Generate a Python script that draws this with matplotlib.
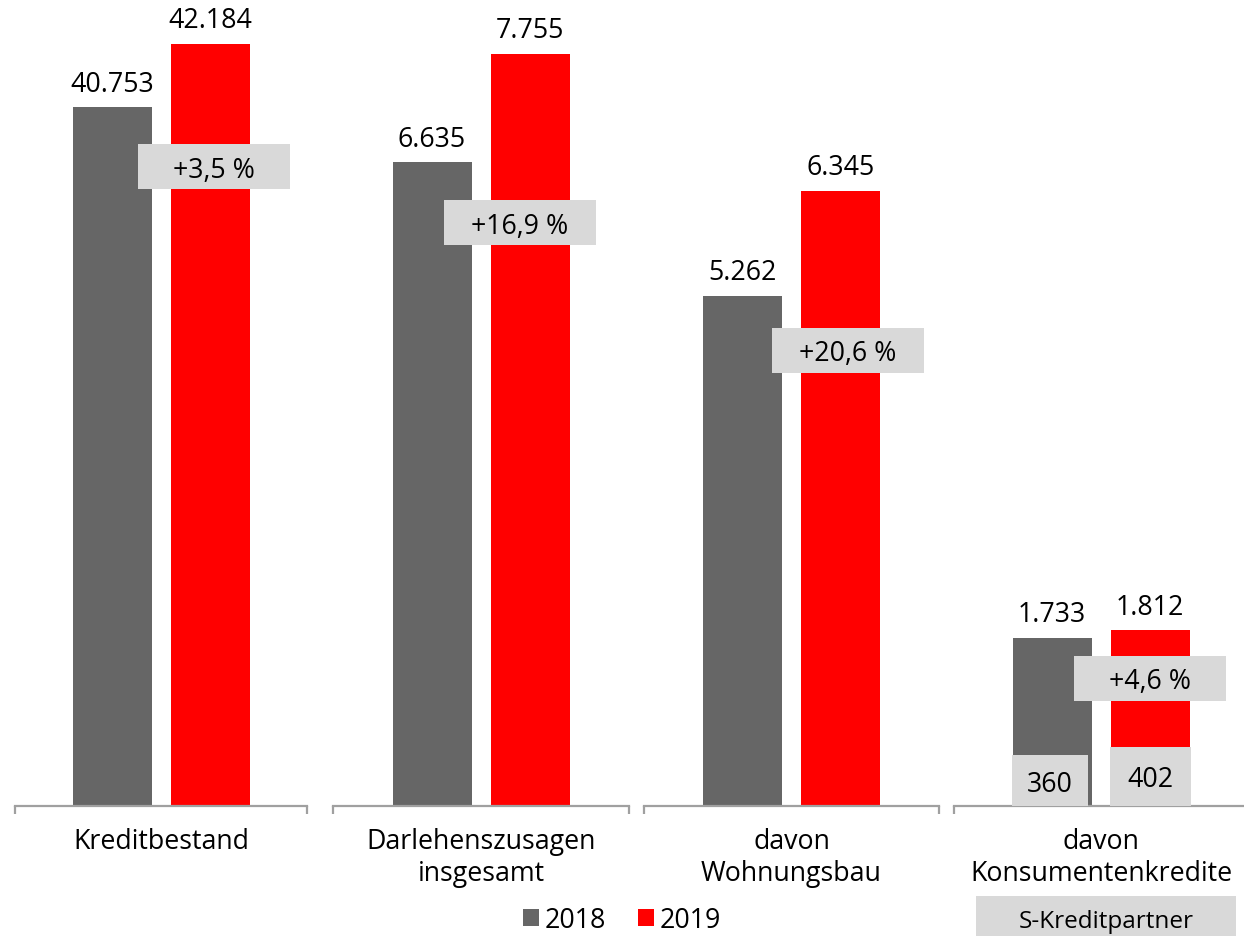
import matplotlib
matplotlib.use("Agg")
import matplotlib.pyplot as plt
import matplotlib.transforms as mtransforms
from matplotlib.patches import Rectangle, Patch

plt.rcParams['font.family'] = ['Open Sans', 'DejaVu Sans']

# ---------------- data ----------------
categories = ["Kreditbestand", "Darlehenszusagen\ninsgesamt",
              "davon\nWohnungsbau", "davon\nKonsumentenkredite"]
years = ["2018", "2019"]
values_2018 = [40753, 6635, 5262, 1733]
values_2019 = [42184, 7755, 6345, 1812]
partner_2018 = 360
partner_2019 = 402
partner_label = "S-Kreditpartner"

# ---------------- style / layout ----------------
GREY = "#666666"
RED = "#ff0000"
BOX = "#d9d9d9"
AXIS = "#a0a0a0"
W, H = 1244, 937
BASE_PX = 807
panels_px = [(15, 307), (333, 629), (644, 939), (954, 1248)]
ylims = [(25000, 43000), (0, 8000), (0, 8000), (0, 8000)]
px_per_unit = [0.04437, 0.0970, 0.0970, 0.0970]
bar_off = 49
bar_w = 79
# change box offsets (px): dx from red bar, dy below grey bar top
chg_dx = [4, -10, 7, 0]
chg_dy = [59.5, 60.5, 54.5, 40.5]
FS = 19.3

fig = plt.figure(figsize=(W / 100, H / 100), dpi=100)


def de(v):
    return f"{v:,}".replace(",", ".")


def fixed_box(ax, xd, yd, dx, dy, w, h, text, fs, base_dy):
    trans = fig.dpi_scale_trans + mtransforms.ScaledTranslation(xd, yd, ax.transData)
    r = Rectangle(((dx - w / 2) / 100, (dy - h / 2) / 100), w / 100, h / 100,
                  transform=trans, facecolor=BOX, edgecolor="none",
                  zorder=5, clip_on=False)
    ax.add_artist(r)
    ax.text(dx / 100, (dy - base_dy) / 100, text, transform=trans,
            ha="center", va="baseline", fontsize=fs, color="black",
            zorder=6, clip_on=False)


axes = []
for i, cat in enumerate(categories):
    l, r = panels_px[i]
    wpx = r - l
    y0, y1 = ylims[i]
    hpx = (y1 - y0) * px_per_unit[i]
    ax = fig.add_axes([l / W, (H - BASE_PX) / H, wpx / W, hpx / H])
    axes.append(ax)
    ax.set_xlim(-wpx / 2, wpx / 2)
    ax.set_ylim(y0, y1)
    ax.bar([-bar_off], [values_2018[i]], width=bar_w, color=GREY, zorder=2)
    ax.bar([bar_off], [values_2019[i]], width=bar_w, color=RED, zorder=2)
    for xb, v in [(-bar_off, values_2018[i]), (bar_off, values_2019[i])]:
        ax.annotate(de(v), xy=(xb, v), xytext=(0, 16.5), textcoords="offset pixels",
                    ha="center", va="baseline", fontsize=FS, color="black")
    for s in ["top", "left", "right"]:
        ax.spines[s].set_visible(False)
    ax.spines["bottom"].set_color(AXIS)
    ax.spines["bottom"].set_linewidth(1.6)
    ax.set_yticks([])
    ax.set_xticks([-wpx / 2, wpx / 2])
    ax.set_xticklabels(["", ""])
    ax.tick_params(axis="x", direction="out", length=6, width=1.6, color=AXIS)
    ax.patch.set_alpha(0)
    # category label
    ax.annotate(cat, xy=(0, y0), xytext=(0, -21), textcoords="offset pixels",
                ha="center", va="top", fontsize=FS, color="black",
                linespacing=1.2, annotation_clip=False)
    # change box
    pct = (values_2019[i] / values_2018[i] - 1) * 100
    txt = f"+{pct:.1f} %".replace(".", ",")
    fixed_box(ax, bar_off, values_2018[i], chg_dx[i], -chg_dy[i], 152, 45,
              txt, FS, 10)

# S-Kreditpartner boxes in the last panel
ax4 = axes[3]
fixed_box(ax4, -bar_off, ylims[3][0], -2.5, 25.5, 76, 51, str(partner_2018), FS, 11)
fixed_box(ax4, bar_off, ylims[3][0], 0, 29.5, 81, 59, str(partner_2019), FS, 10)

# legend
handles = [Patch(facecolor=GREY, edgecolor="none"), Patch(facecolor=RED, edgecolor="none")]
fig.legend(handles, years, loc="center", bbox_to_anchor=(622 / W, (H - 921) / H),
           ncol=2, frameon=False, fontsize=FS, handlelength=0.6, handleheight=0.58,
           handletextpad=0.2, columnspacing=1.2, borderpad=0, borderaxespad=0)

# S-Kreditpartner label box
fig.add_artist(Rectangle((976 / W, 0), 260 / W, 40 / H, transform=fig.transFigure,
                         facecolor=BOX, edgecolor="none"))
fig.text(1106 / W, (H - 928) / H, partner_label, ha="center", va="baseline",
         fontsize=17.5, color="black")

fig.savefig("out.png", dpi=100)
